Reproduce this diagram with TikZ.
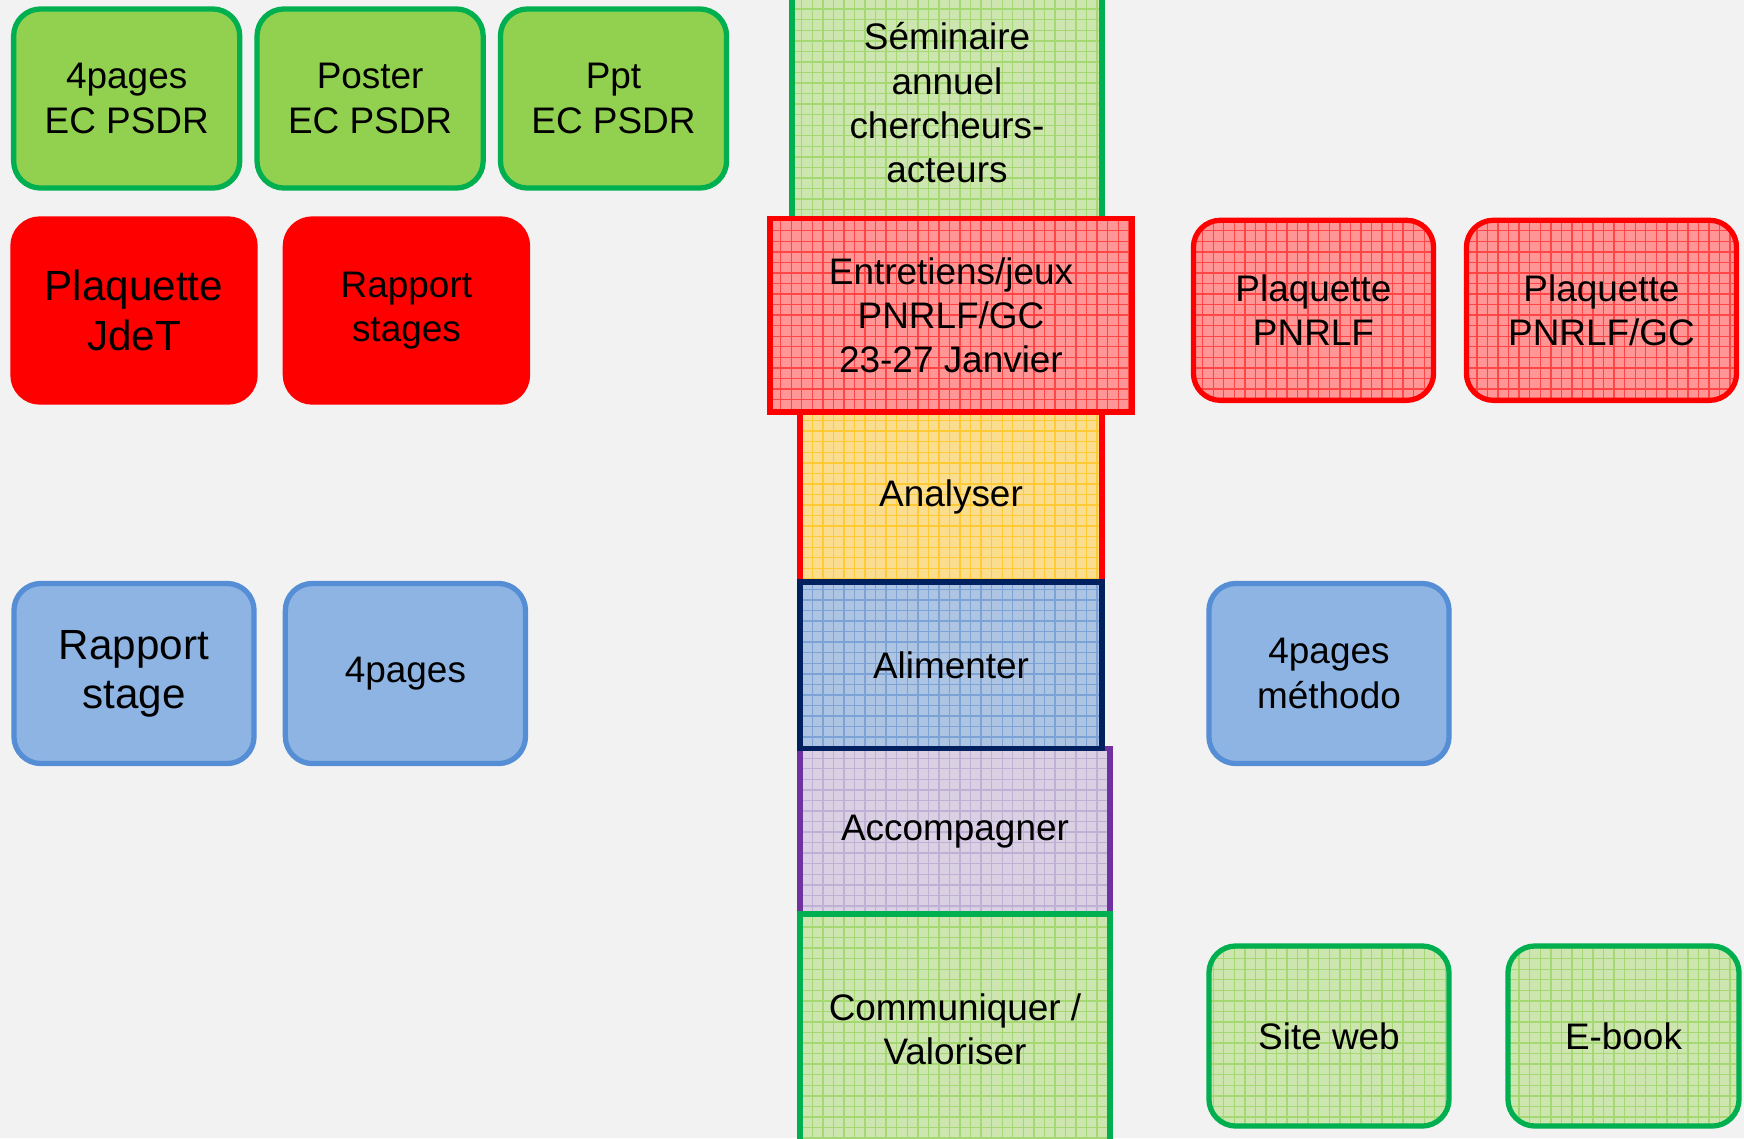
\documentclass[tikz,border=0pt]{standalone}
\usepackage{fontspec}
\setmainfont{Liberation Sans}
\usetikzlibrary{positioning, patterns}

\definecolor{bgcol}{HTML}{F2F2F2}
\definecolor{edgegreen}{HTML}{00B050}
\definecolor{leaf}{HTML}{92D050}
\definecolor{paleleaf}{HTML}{CDE5AE}
\definecolor{gridleaf}{HTML}{A5D872}
\definecolor{palered}{HTML}{FF9595}
\definecolor{gridred}{HTML}{FF4545}
\definecolor{paleamber}{HTML}{FBDD8F}
\definecolor{gridamber}{HTML}{FFCA33}
\definecolor{paleblue}{HTML}{AEC4E3}
\definecolor{gridblue}{HTML}{7DA3D6}
\definecolor{navy}{HTML}{002060}
\definecolor{palelilac}{HTML}{D9D0E3}
\definecolor{gridlilac}{HTML}{BEB1D5}
\definecolor{plum}{HTML}{7030A0}
\definecolor{skyfill}{HTML}{8EB4E3}
\definecolor{skyedge}{HTML}{558ED5}

\begin{document}
\begin{tikzpicture}[
    x=0.01cm,
    y=-0.01cm,
    every node/.style={align=center, inner sep=0pt, font=\fontsize{10.5}{12.6}\selectfont},
    big/.style={font=\fontsize{12}{14}\selectfont},
    card/.style={draw, rounded corners=0.27cm, line width=1.5pt,
                 minimum width=2.42cm, minimum height=1.82cm},
    block/.style={draw, line width=1.5pt},
    hatch/.style 2 args={pattern=grid, pattern color=#1, preaction={fill=#2}},
    leafcard/.style={card, draw=edgegreen, fill=leaf, minimum width=2.26cm, minimum height=1.79cm},
    redcard/.style={card, draw=red, fill=red, minimum width=2.42cm, minimum height=1.83cm},
    skycard/.style={card, draw=skyedge, fill=skyfill, minimum width=2.40cm, minimum height=1.80cm},
    greengrid/.style={hatch={gridleaf}{paleleaf}, draw=edgegreen},
    redgrid/.style={hatch={gridred}{palered}, draw=red},
]

    \useasboundingbox (0,0) rectangle (1744,1138);
    \clip (0,0) rectangle (1744,1138);
    \fill[bgcol] (0,0) rectangle (1744,1138);

    % left side
    \node[leafcard]                      at (126.7,98.5) (ec4)  {4pages\\EC PSDR};
    \node[leafcard, right=0.12cm of ec4]                 (ecp)  {Poster\\EC PSDR};
    \node[leafcard, right=0.12cm of ecp]                 (ecs)  {Ppt\\EC PSDR};

    \node[redcard, big]                  at (134,310.5)  (jdet) {Plaquette\\JdeT};
    \node[redcard, right=0.25cm of jdet]                 (rst)  {Rapport\\stages};

    \node[skycard, big]                  at (134,673.5)  (rap)  {Rapport\\stage};
    \node[skycard, right=0.26cm of rap]                  (q4)   {4pages};

    % central column
    \node[block, greengrid, minimum width=3.10cm, minimum height=2.36cm]
        at (947,103)    (sem) {Séminaire\\annuel\\chercheurs-\\acteurs};
    \node[block, hatch={gridamber}{paleamber}, draw=red, minimum width=3.02cm, minimum height=1.69cm]
        at (951,497.3)  (ana) {Analyser};
    \node[block, hatch={gridlilac}{palelilac}, draw=plum, minimum width=3.10cm, minimum height=1.655cm]
        at (955,831.3)  (acc) {Accompagner};
    \node[block, greengrid, minimum width=3.10cm, minimum height=2.30cm]
        at (955,1029)   (com) {Communiquer /\\Valoriser};
    \node[block, hatch={gridblue}{paleblue}, draw=navy, minimum width=3.02cm, minimum height=1.665cm]
        at (951,665.3)  (ali) {Alimenter};
    \node[block, redgrid, minimum width=3.62cm, minimum height=1.93cm]
        at (951,315.3)  (ent) {Entretiens/jeux\\PNRLF/GC\\23-27 Janvier};

    % right side
    \node[card, redgrid, minimum width=2.40cm, minimum height=1.80cm]  at (1313.5,310.3) (pnr)  {Plaquette\\PNRLF};
    \node[card, redgrid, minimum width=2.70cm, minimum height=1.80cm]  at (1601.5,310.3) (pgc)  {Plaquette\\PNRLF/GC};
    \node[skycard]                              at (1329,673.5)   (meth) {4pages\\méthodo};
    \node[card, greengrid, minimum width=2.40cm, minimum height=1.80cm] at (1329,1036)  (web)  {Site web};
    \node[card, greengrid, minimum width=2.31cm, minimum height=1.80cm] at (1623.5,1036) (ebk) {E-book};
\end{tikzpicture}
\end{document}
